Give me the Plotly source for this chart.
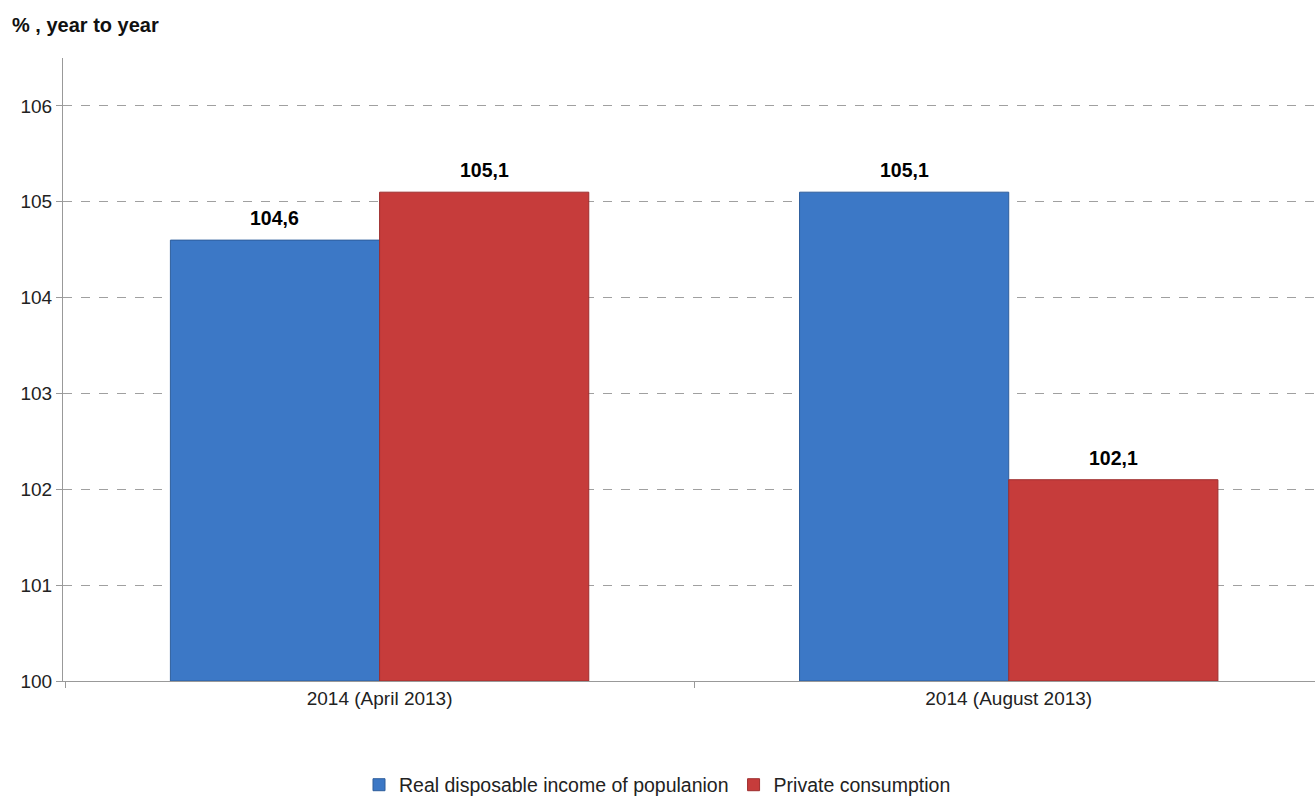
import plotly.graph_objects as go

categories = ["2014 (April 2013)", "2014 (August 2013)"]
income = [104.6, 105.1]
consumption = [105.1, 102.1]
income_labels = ["104,6", "105,1"]
consumption_labels = ["105,1", "102,1"]
y_ticks = [100, 101, 102, 103, 104, 105, 106]

W, H = 1315, 796
ML, MR, MT, MB = 63, 0, 58, 115
X_RANGE = [-0.5032, 1.4868]
BARGAP = 0.335
cat_px = (W - ML - MR) / (X_RANGE[1] - X_RANGE[0])
bar_px = cat_px * (1 - BARGAP) / 2

fig = go.Figure()
fig.add_trace(go.Bar(
    x=categories, y=[v - 100 for v in income], base=100,
    name="Real disposable income of populanion",
    marker=dict(color="#3C78C6", line=dict(color="#2E5E9C", width=1)),
    hoverinfo="skip",
))
fig.add_trace(go.Bar(
    x=categories, y=[v - 100 for v in consumption], base=100,
    name="Private consumption",
    marker=dict(color="#C63C3B", line=dict(color="#9E2E2E", width=1)),
    hoverinfo="skip",
))

annotations = [dict(text="<b>% , year to year</b>", xref="paper", yref="paper",
                    x=-0.0425, y=1.053, xanchor="left", yanchor="middle",
                    showarrow=False, font=dict(size=20, color="#111111"))]
for cat, v, lab in zip(categories, income, income_labels):
    annotations.append(dict(x=cat, y=v, text=f"<b>{lab}</b>", showarrow=False,
                            xshift=-bar_px / 2, yshift=9, yanchor="bottom",
                            font=dict(size=19.5, color="#000000")))
for cat, v, lab in zip(categories, consumption, consumption_labels):
    annotations.append(dict(x=cat, y=v, text=f"<b>{lab}</b>", showarrow=False,
                            xshift=bar_px / 2, yshift=9, yanchor="bottom",
                            font=dict(size=19.5, color="#000000")))

fig.update_layout(
    width=W, height=H,
    margin=dict(l=ML, r=MR, t=MT, b=MB, autoexpand=False),
    paper_bgcolor="white", plot_bgcolor="white",
    barmode="group", bargap=BARGAP, bargroupgap=0,
    font=dict(family="Liberation Sans", size=19, color="#222222"),
    legend=dict(orientation="h", xref="container", x=0.5, xanchor="center",
                y=-0.167, yanchor="middle",
                font=dict(size=19.5, color="#222222"), itemwidth=30,
                traceorder="normal"),
    annotations=annotations,
)
fig.update_yaxes(range=[100, 106.5], tickvals=y_ticks, automargin=False,
                 showgrid=True, gridcolor="#A0A0A0", griddash="dash", gridwidth=1,
                 showline=True, linecolor="#999999", linewidth=1,
                 ticks="outside", ticklen=6, tickcolor="#999999",
                 tickfont=dict(size=19, color="#222222"), zeroline=False)
fig.update_xaxes(range=X_RANGE, showline=True, linecolor="#999999", linewidth=1,
                 automargin=False,
                 ticks="outside", tickson="boundaries", ticklen=6, tickcolor="#999999",
                 tickfont=dict(size=19, color="#222222"))

fig.write_html("out.html", config={"displayModeBar": False},
               post_script="document.body.style.margin='0';document.body.style.overflow='hidden';")
